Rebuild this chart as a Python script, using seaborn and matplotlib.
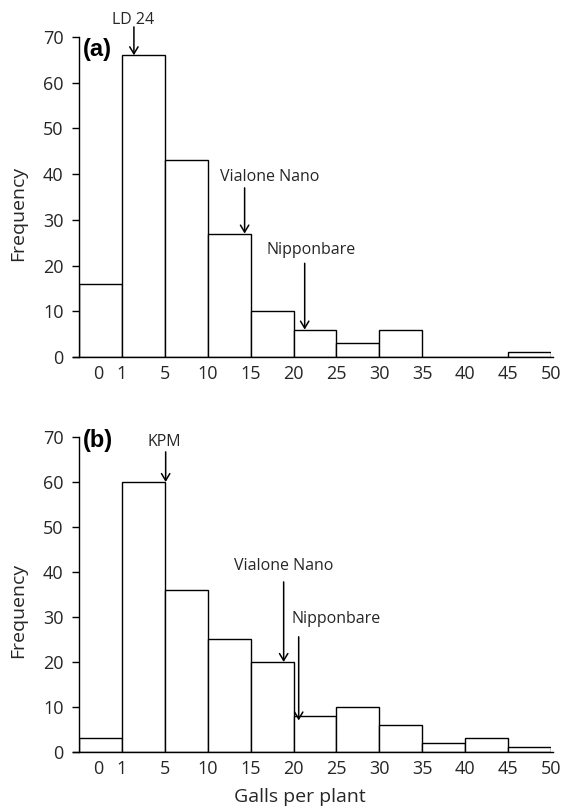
import matplotlib
matplotlib.use("Agg")
import matplotlib.pyplot as plt
import pandas as pd
import seaborn as sns

# bins of galls per plant (0, 1-5, 5-10, ... 45-50)
bins = ["0", "1-5", "5-10", "10-15", "15-20", "20-25",
        "25-30", "30-35", "35-40", "40-45", "45-50"]
freq_a = [16, 66, 43, 27, 10, 6, 3, 6, 0, 0, 1]
freq_b = [3, 60, 36, 25, 20, 8, 10, 6, 2, 3, 1]
tick_labels = ["0", "1", "5", "10", "15", "20", "25", "30", "35", "40", "45", "50"]

# annotations: (label, text x, text y, arrow x, arrow start y, arrow tip y)
notes_a = [("LD 24", 0.76, 73.7, 0.78, 72.2, 66),
           ("Vialone Nano", 3.94, 39.4, 3.36, 37.0, 27),
           ("Nipponbare", 4.9, 23.4, 4.76, 20.5, 6)]
notes_b = [("KPM", 1.5, 68.9, 1.52, 66.7, 60),
           ("Vialone Nano", 4.27, 41.3, 4.27, 37.8, 20),
           ("Nipponbare", 5.5, 29.5, 4.62, 25.6, 7)]

sns.set_style("white")
plt.rcParams["font.family"] = ["Open Sans", "DejaVu Sans"]
text_col = "#262626"

fig = plt.figure(figsize=(5.65, 8.09), dpi=100)
ax_a = fig.add_axes([0.1398, 0.5587, 0.8354, 0.3956])
ax_b = fig.add_axes([0.1398, 0.0705, 0.8354, 0.3893])


def draw_panel(ax, freq, notes, tag, tag_y):
    df = pd.DataFrame({"bin": bins, "freq": freq})
    sns.barplot(data=df, x="bin", y="freq", color="white", edgecolor="black",
                linewidth=1.0, width=1.0, saturation=1, ax=ax)
    ax.set_xlim(-0.5, 10.5)
    ax.set_ylim(0, 70)
    ax.set_yticks(range(0, 71, 10))
    ax.tick_params(axis="y", direction="out", length=5, width=1, color="black",
                   labelsize=13, labelcolor=text_col, pad=6, left=True)
    ax.set_xticks([-0.05] + [i + 0.5 for i in range(11)])
    ax.set_xticklabels(tick_labels)
    ax.tick_params(axis="x", length=0, labelsize=13, labelcolor=text_col, pad=6)
    for s in ["top", "right"]:
        ax.spines[s].set_visible(False)
    for s in ["left", "bottom"]:
        ax.spines[s].set_color("black")
        ax.spines[s].set_linewidth(1.0)
    ax.spines["bottom"].set_bounds(-0.65, 10.55)
    ax.set_xlabel("")
    ax.set_ylabel("")
    ax.text(-0.129, 0.45, "Frequency", transform=ax.transAxes, rotation=90,
            ha="center", va="center", fontsize=14, color=text_col)
    ax.text(-0.4, tag_y, tag, fontsize=17, fontweight="bold",
            family="Liberation Sans", va="center", ha="left", color="black")
    for label, tx, ty, axx, y0, y1 in notes:
        ax.text(tx, ty, label, fontsize=11.5, ha="center", va="center",
                color=text_col)
        ax.annotate("", xy=(axx, y1), xytext=(axx, y0),
                    arrowprops=dict(arrowstyle="->,head_length=0.5,head_width=0.3",
                                    lw=1.1, color="black", shrinkA=0, shrinkB=0),
                    annotation_clip=False)


draw_panel(ax_a, freq_a, notes_a, "(a)", 67.2)
draw_panel(ax_b, freq_b, notes_b, "(b)", 69.3)
ax_b.text(0.468, -0.143, "Galls per plant", transform=ax_b.transAxes,
          ha="center", va="center", fontsize=14, color=text_col)

fig.savefig("out.png", dpi=100)
